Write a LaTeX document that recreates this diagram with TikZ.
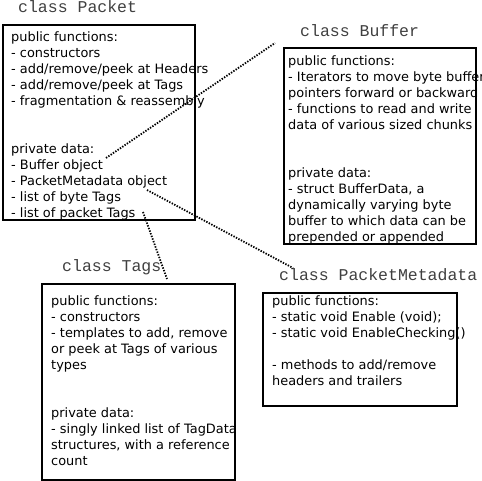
\documentclass[tikz,border=0pt]{standalone}
\usepackage{fontspec}
\setmainfont{DejaVu Sans}
\newfontfamily\titlefont{Liberation Mono}
\begin{document}
\begin{tikzpicture}[x=1pt,y=-1pt,
  classbox/.style={draw=black, line width=2pt, fill=none, inner sep=0pt, anchor=north west},
  body/.style={anchor=north west, inner sep=0pt, align=left, font=\fontsize{12.9}{16}\selectfont},
  title/.style={anchor=base west, inner sep=0pt, font=\titlefont\fontsize{16.5}{18}\selectfont, text=black!75},
  link/.style={line width=1.8pt, dash pattern=on 1.4pt off 1.4pt}]
\useasboundingbox (0,0) rectangle (482,481);
% Packet
\node[title] (tpacket) at (18,13) {class Packet};
\node[classbox, minimum width=192pt, minimum height=195pt] (packetbox) at (2,24) {};
\node[body] (packettext) at (11,31) {\rule{0pt}{10pt}public functions:\\
- constructors\\
- add/remove/peek at Headers\\
- add/remove/peek at Tags\\
- fragmentation \& reassembly\\
~\\
~\\
private data:\\
- Buffer object\\
- PacketMetadata object\\
- list of byte Tags\\
- list of packet Tags};
% Buffer
\node[title] (tbuffer) at (300,37) {class Buffer};
\node[classbox, minimum width=192pt, minimum height=196pt] (bufferbox) at (283,47) {};
\node[body] (buffertext) at (288,55) {\rule{0pt}{10pt}public functions:\\
- Iterators to move byte buffer\\
pointers forward or backward\\
- functions to read and write\\
data of various sized chunks\\
~\\
~\\
private data:\\
- struct BufferData, a\\
dynamically varying byte\\
buffer to which data can be\\
prepended or appended};
% Tags
\node[title] (ttags) at (62,272) {class Tags};
\node[classbox, minimum width=193pt, minimum height=196pt] (tagsbox) at (41,283) {};
\node[body] (tagstext) at (51,295) {\rule{0pt}{10pt}public functions:\\
- constructors\\
- templates to add, remove\\
or peek at Tags of various\\
types\\
~\\
~\\
private data:\\
- singly linked list of TagData\\
structures, with a reference\\
count};
% PacketMetadata
\node[title] (tmeta) at (279,280) {class PacketMetadata};
\node[classbox, minimum width=194pt, minimum height=113pt] (metabox) at (262,292) {};
\node[body] (metatext) at (272,295) {\rule{0pt}{10pt}public functions:\\
- static void Enable (void);\\
- static void EnableChecking()\\
~\\
- methods to add/remove\\
headers and trailers};
% connectors
\coordinate (bufobj) at (106,158);
\coordinate (bufend) at (275,43);
\coordinate (metaobj) at (147,190);
\coordinate (metaend) at (293,268);
\coordinate (tagsobj) at (143,212);
\coordinate (tagsend) at (167,279);
\draw[link] (bufobj) -- (bufend);
\draw[link] (metaobj) -- (metaend);
\draw[link] (tagsobj) -- (tagsend);
\end{tikzpicture}
\end{document}
